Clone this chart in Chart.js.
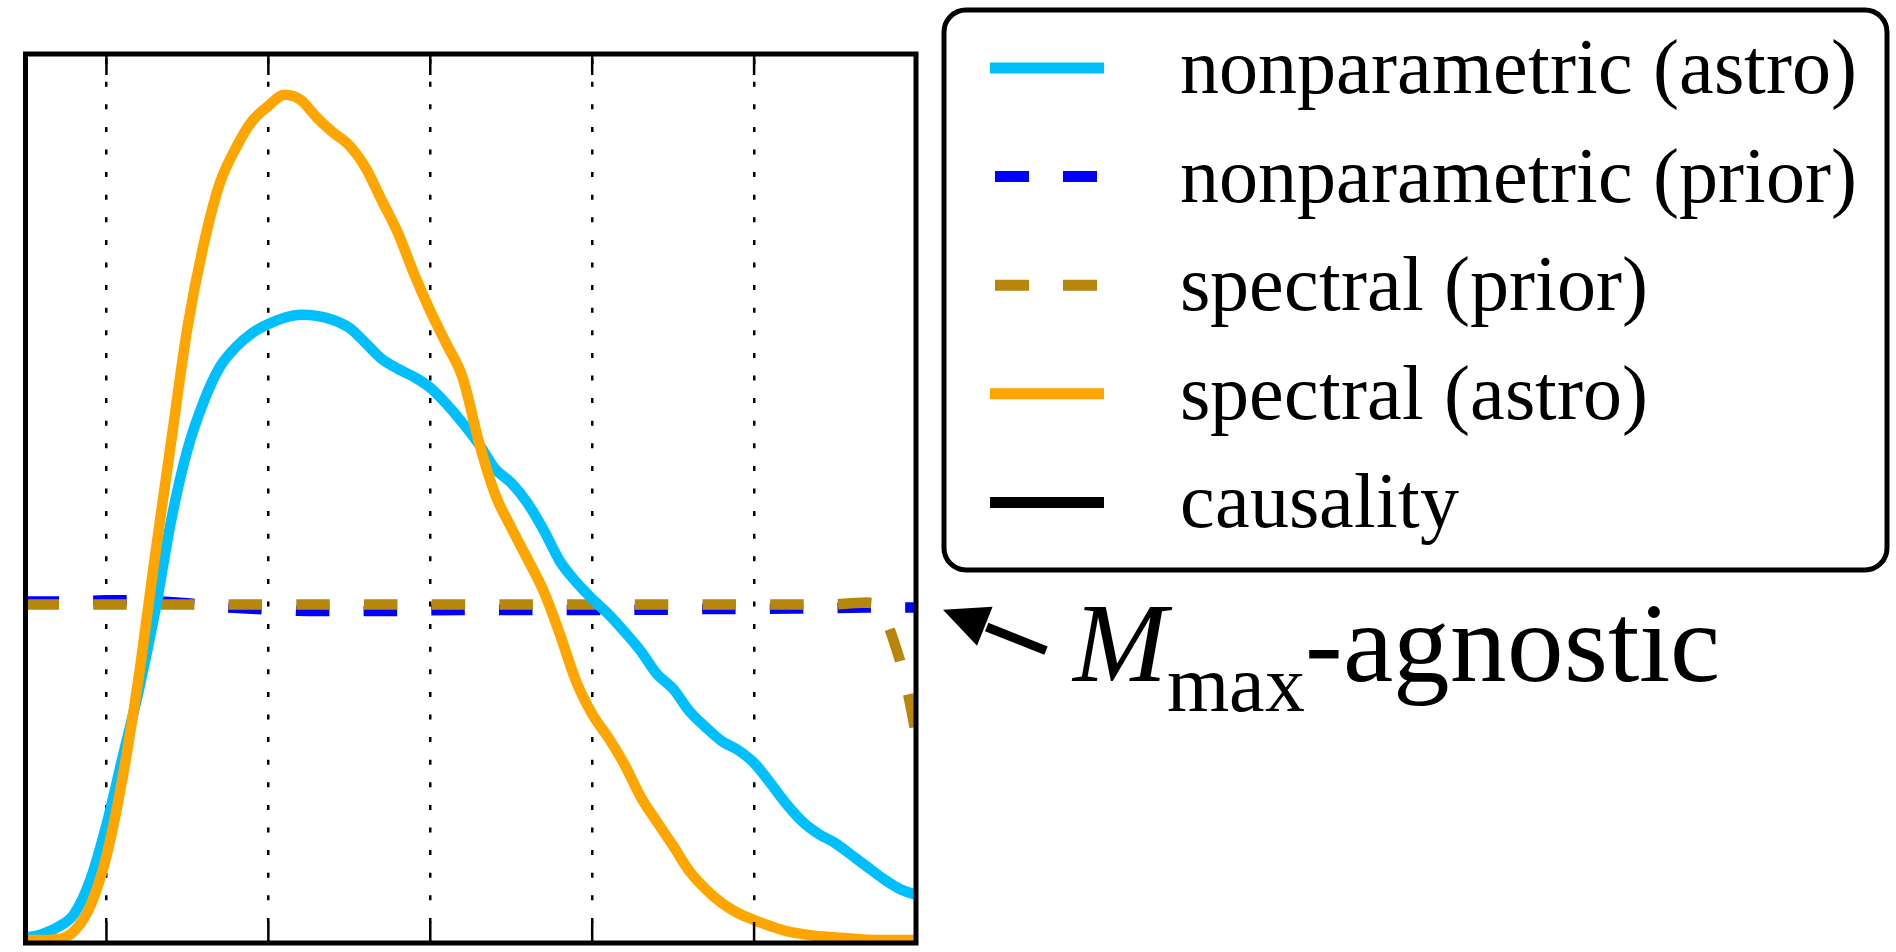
<!DOCTYPE html>
<html>
<head>
<meta charset="utf-8">
<script src="https://cdn.jsdelivr.net/npm/chart.js@4.4.1/dist/chart.umd.min.js"></script>
<style>
  @font-face {
    font-family: "PlotSerif";
    font-style: normal;
    src: local("Liberation Serif"), local("LiberationSerif"), local("Liberation Serif Regular"),
         local("DejaVu Serif"), local("DejaVuSerif");
  }
  @font-face {
    font-family: "PlotSerif";
    font-style: italic;
    src: local("Liberation Serif Italic"), local("LiberationSerif-Italic"),
         local("DejaVu Serif Italic"), local("DejaVuSerif-Italic");
  }
  html, body { margin: 0; padding: 0; background: #fff; }
  #chart { display: block; }
</style>
</head>
<body>
<canvas id="chart" width="1896" height="952"></canvas>
<script>
// M_max grid for the two astro posteriors
const massGrid = [
  1.90, 1.92, 1.94, 1.96, 1.98, 2.00, 2.02, 2.04, 2.06, 2.08,
  2.10, 2.12, 2.14, 2.16, 2.18, 2.20, 2.22, 2.24, 2.26, 2.28,
  2.30, 2.32, 2.34, 2.36, 2.38, 2.40, 2.42, 2.44, 2.46, 2.48,
  2.50, 2.52, 2.54, 2.56, 2.58, 2.60, 2.62, 2.64, 2.66, 2.68,
  2.70, 2.72, 2.74, 2.76, 2.78, 2.80, 2.82, 2.84, 2.86, 2.88,
  2.90, 2.92, 2.94, 2.96, 2.98, 3.00,
];
const nonparametricAstro = [
  0.014, 0.024, 0.043, 0.078, 0.170, 0.319, 0.502, 0.683, 0.894, 1.142,
  1.331, 1.461, 1.555, 1.609, 1.647, 1.671, 1.688, 1.696, 1.693, 1.682,
  1.661, 1.620, 1.577, 1.550, 1.528, 1.499, 1.455, 1.404, 1.347, 1.280,
  1.242, 1.188, 1.115, 1.031, 0.975, 0.929, 0.888, 0.840, 0.788, 0.726,
  0.686, 0.626, 0.583, 0.545, 0.521, 0.486, 0.432, 0.375, 0.327, 0.294,
  0.270, 0.238, 0.205, 0.173, 0.146, 0.130,
];
const spectralAstro = [
  0.008, 0.008, 0.010, 0.032, 0.100, 0.235, 0.448, 0.721, 1.045, 1.355,
  1.661, 1.885, 2.051, 2.147, 2.219, 2.260, 2.290, 2.276, 2.228, 2.188,
  2.153, 2.093, 2.005, 1.917, 1.806, 1.706, 1.617, 1.526, 1.353, 1.212,
  1.121, 1.037, 0.950, 0.834, 0.707, 0.618, 0.554, 0.481, 0.394, 0.327,
  0.262, 0.194, 0.146, 0.108, 0.081, 0.062, 0.046, 0.032, 0.024, 0.018,
  0.015, 0.012, 0.009, 0.008, 0.008, 0.008,
];

// priors are nearly flat; sampled coarser, denser at the upper edge
const priorMassGrid = [
  1.90, 1.95, 2.00, 2.05, 2.10, 2.15, 2.20, 2.25, 2.30, 2.35,
  2.40, 2.45, 2.50, 2.55, 2.60, 2.65, 2.70, 2.75, 2.80, 2.85,
  2.90, 2.92, 2.94, 2.95, 2.96, 2.97, 2.975, 2.98, 2.985, 2.99,
  2.995, 3.00,
];
const nonparametricPrior = [
  0.922, 0.922, 0.925, 0.925, 0.917, 0.906, 0.900, 0.896, 0.896, 0.896,
  0.898, 0.899, 0.899, 0.899, 0.899, 0.900, 0.900, 0.902, 0.902, 0.903,
  0.904, 0.905, 0.906, 0.906, 0.906, 0.906, 0.906, 0.906, 0.906, 0.906,
  0.906, 0.906,
];
const spectralPrior = [
  0.914, 0.914, 0.914, 0.914, 0.914, 0.914, 0.914, 0.914, 0.914, 0.914,
  0.914, 0.914, 0.914, 0.914, 0.914, 0.914, 0.914, 0.914, 0.914, 0.914,
  0.914, 0.917, 0.919, 0.917, 0.891, 0.832, 0.799, 0.764, 0.721, 0.675,
  0.621, 0.562,
];

const massTicks = [2.0, 2.2, 2.4, 2.6, 2.8];
const seriesLabels = [
  'nonparametric (astro)',
  'nonparametric (prior)',
  'spectral (prior)',
  'spectral (astro)',
  'causality',
];
const annotationLevel = 0.9; // arrow points at the flat prior level

const LINE_W = 10.5;
const DASH = [33.5, 34.2];
const TICK_LEN = 21;
const SERIF = '"PlotSerif", "Liberation Serif", "DejaVu Serif", serif';

const xy = (xs, ys) => xs.map((x, i) => ({ x, y: ys[i] }));

// inward ticks on top/bottom and the heavy box, drawn over the curves
const frameAndTicks = {
  id: 'frameAndTicks',
  afterDatasetsDraw(chart) {
    const { ctx, chartArea: a, scales: { x } } = chart;
    ctx.save();
    ctx.strokeStyle = '#000';
    ctx.lineWidth = 2.5;
    ctx.beginPath();
    for (const t of x.ticks) {
      const px = x.getPixelForValue(t.value);
      ctx.moveTo(px, a.top);
      ctx.lineTo(px, a.top + TICK_LEN);
      ctx.moveTo(px, a.bottom);
      ctx.lineTo(px, a.bottom - TICK_LEN);
    }
    ctx.stroke();
    ctx.lineWidth = 5;
    ctx.lineJoin = 'miter';
    ctx.strokeRect(a.left, a.top, a.right - a.left, a.bottom - a.top);
    ctx.restore();
  },
};

function roundedBox(ctx, x0, y0, x1, y1, r) {
  ctx.beginPath();
  ctx.moveTo(x0 + r, y0);
  ctx.lineTo(x1 - r, y0);
  ctx.arcTo(x1, y0, x1, y0 + r, r);
  ctx.lineTo(x1, y1 - r);
  ctx.arcTo(x1, y1, x1 - r, y1, r);
  ctx.lineTo(x0 + r, y1);
  ctx.arcTo(x0, y1, x0, y1 - r, r);
  ctx.lineTo(x0, y0 + r);
  ctx.arcTo(x0, y0, x0 + r, y0, r);
  ctx.closePath();
}

// legend box to the right of the axes
const sideLegend = {
  id: 'sideLegend',
  afterDraw(chart) {
    const { ctx, chartArea: a } = chart;
    const left = a.right + 28, top = 10, right = 1887, bottom = 570;
    ctx.save();
    ctx.fillStyle = '#fff';
    roundedBox(ctx, left, top, right, bottom, 22);
    ctx.fill();
    ctx.lineWidth = 5;
    ctx.strokeStyle = '#000';
    ctx.stroke();

    const rowGap = 108.6;
    chart.data.datasets.forEach((ds, i) => {
      const cy = 68 + i * rowGap;
      ctx.save();
      ctx.strokeStyle = ds.borderColor;
      ctx.lineWidth = 11;
      ctx.lineCap = 'butt';
      if (ds.borderDash) {
        ctx.setLineDash([34, 34]);
        ctx.lineDashOffset = -5;
      }
      ctx.beginPath();
      ctx.moveTo(left + 46, cy);
      ctx.lineTo(left + 160, cy);
      ctx.stroke();
      ctx.restore();

      ctx.fillStyle = '#000';
      ctx.font = '78px ' + SERIF;
      ctx.textBaseline = 'alphabetic';
      ctx.fillText(ds.label, left + 236, cy + 25);
    });
    ctx.restore();
  },
};

// "M_max-agnostic" note with an arrow pointing at the prior level
const agnosticNote = {
  id: 'agnosticNote',
  afterDraw(chart) {
    const { ctx, chartArea: a, scales: { y } } = chart;
    const tipX = a.right + 27;
    const tipY = y.getPixelForValue(annotationLevel);
    const tailX = tipX + 103, tailY = tipY + 41;
    const len = Math.hypot(tailX - tipX, tailY - tipY);
    const ux = (tailX - tipX) / len, uy = (tailY - tipY) / len;
    const headLen = 45, headHalf = 21;
    const bx = tipX + ux * headLen, by = tipY + uy * headLen;

    ctx.save();
    ctx.strokeStyle = '#000';
    ctx.fillStyle = '#000';
    ctx.lineWidth = 9;
    ctx.beginPath();
    ctx.moveTo(tailX, tailY);
    ctx.lineTo(bx + ux * 2, by + uy * 2);
    ctx.stroke();
    ctx.beginPath();
    ctx.moveTo(tipX, tipY);
    ctx.lineTo(bx - uy * headHalf, by + ux * headHalf);
    ctx.lineTo(bx + uy * headHalf, by - ux * headHalf);
    ctx.closePath();
    ctx.fill();

    const base = tipY + 71;
    let x = tipX + 130;
    ctx.textBaseline = 'alphabetic';
    ctx.font = 'italic 113px ' + SERIF;
    ctx.fillText('M', x, base);
    x += ctx.measureText('M').width;
    ctx.font = '80px ' + SERIF;
    ctx.fillText('max', x, base + 30);
    x += ctx.measureText('max').width;
    ctx.font = '113px ' + SERIF;
    ctx.fillText('-agnostic', x, base);
    ctx.restore();
  },
};

function drawChart() {
  new Chart(document.getElementById('chart'), {
    type: 'line',
    data: {
      datasets: [
        {
          label: seriesLabels[0],
          data: xy(massGrid, nonparametricAstro),
          borderColor: '#00bfff',
          borderWidth: LINE_W,
          cubicInterpolationMode: 'monotone',
          order: 1,
        },
        {
          label: seriesLabels[1],
          data: xy(priorMassGrid, nonparametricPrior),
          borderColor: '#0000ff',
          borderWidth: LINE_W,
          borderDash: DASH,
          tension: 0,
          order: 3,
        },
        {
          label: seriesLabels[2],
          data: xy(priorMassGrid, spectralPrior),
          borderColor: '#b8860b',
          borderWidth: LINE_W,
          borderDash: DASH,
          tension: 0,
          order: 2,
        },
        {
          label: seriesLabels[3],
          data: xy(massGrid, spectralAstro),
          borderColor: '#ffa500',
          borderWidth: LINE_W,
          cubicInterpolationMode: 'monotone',
          order: 0,
        },
        {
          label: seriesLabels[4],
          data: [],
          borderColor: '#000000',
          borderWidth: LINE_W,
          order: 4,
        },
      ],
    },
    options: {
      responsive: false,
      animation: false,
      events: [],
      layout: { padding: { left: 25.5, top: 54, right: 980, bottom: 9 } },
      elements: {
        point: { radius: 0 },
        line: { borderCapStyle: 'butt', borderJoinStyle: 'round', fill: false },
      },
      datasets: { line: { clip: 0 } },
      plugins: { legend: { display: false }, tooltip: { enabled: false } },
      scales: {
        x: {
          type: 'linear',
          min: 1.9,
          max: 3.0,
          afterBuildTicks: (scale) => { scale.ticks = massTicks.map((value) => ({ value })); },
          ticks: { display: false },
          // in v4 the grid-line dash lives under border
          border: { display: false, dash: [5, 17.6], dashOffset: 17.5 },
          grid: { color: '#000', lineWidth: 2.5, drawTicks: false },
        },
        y: {
          type: 'linear',
          min: 0,
          max: 2.4,
          ticks: { display: false },
          border: { display: false },
          grid: { display: false, drawTicks: false },
        },
      },
    },
    plugins: [frameAndTicks, sideLegend, agnosticNote],
  });
}

Promise.all([
  document.fonts.load('78px "PlotSerif"'),
  document.fonts.load('italic 113px "PlotSerif"'),
]).catch(() => null).then(drawChart);
</script>
</body>
</html>
